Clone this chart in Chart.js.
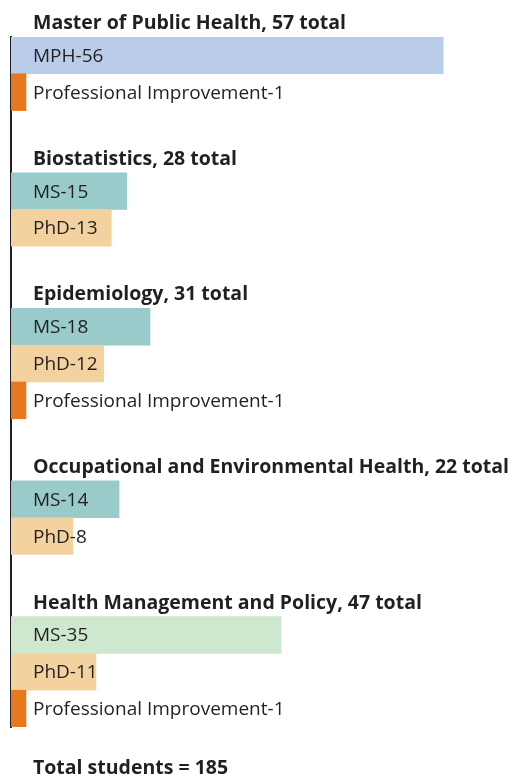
<!DOCTYPE html>
<html>
<head>
<meta charset="utf-8">
<script src="https://cdn.jsdelivr.net/npm/chart.js@4.4.1/dist/chart.umd.min.js"></script>
<style>
  html, body { margin: 0; padding: 0; background: #fff; }
  #wrap { width: 515px; height: 779px; position: relative; }
</style>
</head>
<body>
<div id="wrap"><canvas id="enrollChart"></canvas></div>
<script>
// Enrollment by department
const groupNames = ['Master of Public Health', 'Biostatistics', 'Epidemiology', 'Occupational and Environmental Health', 'Health Management and Policy'];
const groupTotals = [57, 28, 31, 22, 47];
const programs = [
    ['MPH', 'Professional Improvement'],
    ['MS', 'PhD'],
    ['MS', 'PhD', 'Professional Improvement'],
    ['MS', 'PhD'],
    ['MS', 'PhD', 'Professional Improvement']
];
const enrolled = [
    [56, 1],
    [15, 13],
    [18, 12, 1],
    [14, 8],
    [35, 11, 1]
];
const totalStudents = 185;

// colours per bar, same shape as programs
const barColors = [
    ['#b9cdea', '#e8781e'],
    ['#98cbca', '#f3d2a0'],
    ['#98cbca', '#f3d2a0', '#e8781e'],
    ['#98cbca', '#f3d2a0'],
    ['#cde8cf', '#f3d2a0', '#e8781e']
];

const TEXT_COLOR = '#231f20';
const FONT_FAMILY = '"Open Sans", sans-serif';
const HEADER_FONT = 'bold 19.5px ' + FONT_FAMILY;
const LABEL_FONT = '19px ' + FONT_FAMILY;
const GAP = 1.69;          // empty space between groups, in bar heights
const HEADER_OFFSET = 0.9; // header sits this far above the first bar
const TOTAL_OFFSET = 1.61;

// Build rows (bar positions along the y scale) from the arrays
const bars = [];
const texts = [];
let pos = 0;
groupNames.forEach((name, g) => {
    if (g > 0) pos += GAP;
    texts.push({ text: `${name}, ${groupTotals[g]} total`, pos: pos - HEADER_OFFSET, header: true });
    programs[g].forEach((p, i) => {
        bars.push({ x: enrolled[g][i], y: pos, color: barColors[g][i] });
        texts.push({ text: `${p}-${enrolled[g][i]}`, pos: pos, header: false });
        pos += 1;
    });
});
const lastPos = pos - 1;
texts.push({ text: `Total students = ${totalStudents}`, pos: lastPos + TOTAL_OFFSET, header: true });

const rowLabels = {
    id: 'rowLabels',
    afterDraw(chart) {
        const { ctx, scales: { x, y } } = chart;
        ctx.save();
        ctx.fillStyle = TEXT_COLOR;
        ctx.textAlign = 'left';
        ctx.textBaseline = 'middle';
        const left = x.getPixelForValue(0) + 22;
        texts.forEach(t => {
            ctx.font = t.header ? HEADER_FONT : LABEL_FONT;
            ctx.fillText(t.text, left, y.getPixelForValue(t.pos) + 1);
        });
        ctx.restore();
    }
};

new Chart(document.getElementById('enrollChart'), {
    type: 'bar',
    data: {
        datasets: [{
            data: bars.map(b => ({ x: b.x, y: b.y })),
            backgroundColor: bars.map(b => b.color),
            borderWidth: 0,
            barPercentage: 1,
            categoryPercentage: 1,
            minBarLength: 15
        }]
    },
    options: {
        indexAxis: 'y',
        responsive: true,
        maintainAspectRatio: false,
        animation: false,
        layout: { padding: { top: 37, bottom: 52, left: 11, right: 0 } },
        plugins: {
            legend: { display: false },
            tooltip: { enabled: false }
        },
        scales: {
            x: { type: 'linear', min: 0, max: 65.3, display: false },
            y: {
                type: 'linear',
                reverse: true,
                offset: false,
                min: -0.5,
                max: lastPos + 0.5,
                z: 1,
                afterBuildTicks: scale => { scale.ticks = bars.map(b => ({ value: b.y })); },
                grid: { display: false, drawTicks: false },
                ticks: { display: false },
                border: { display: true, color: TEXT_COLOR, width: 2 }
            }
        }
    },
    plugins: [rowLabels]
});
</script>
</body>
</html>
